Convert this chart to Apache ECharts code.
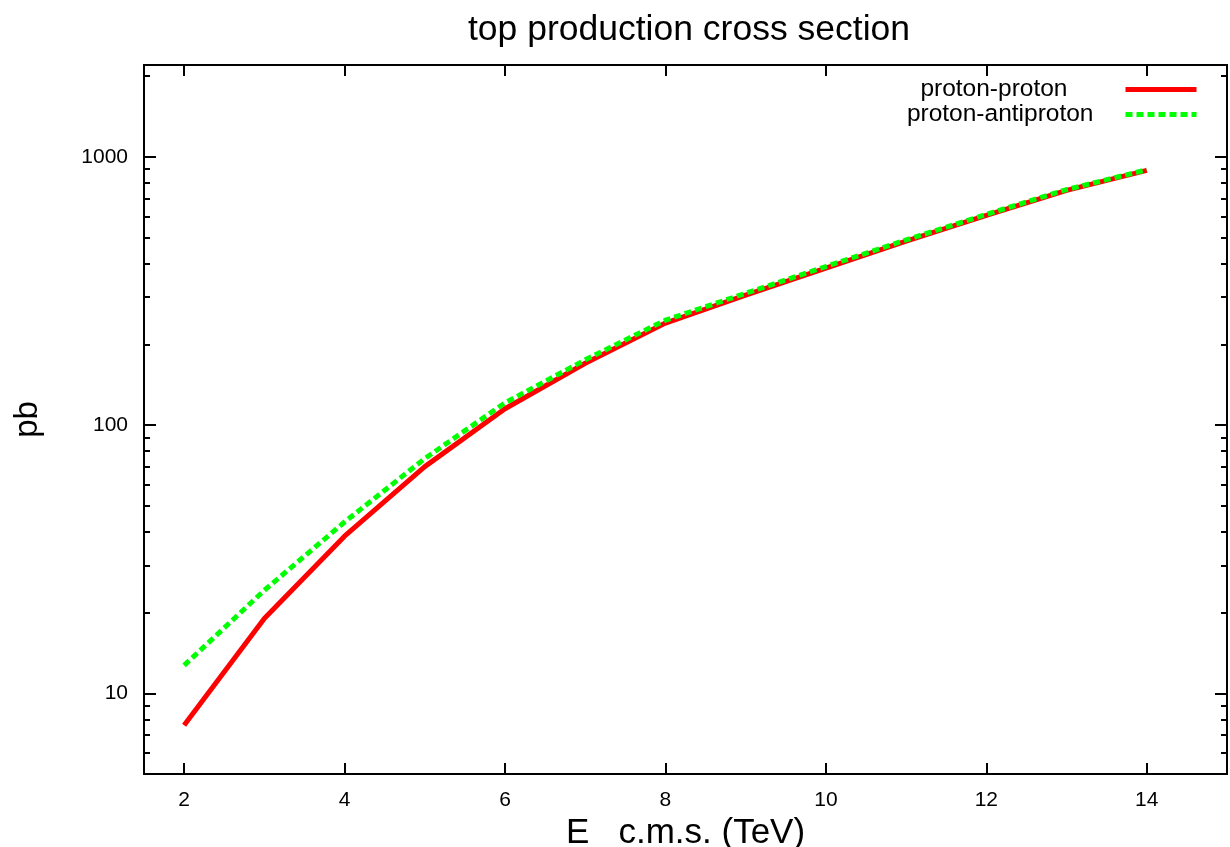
<!DOCTYPE html>
<html>
<head>
<meta charset="utf-8">
<title>top production cross section</title>
<script src="https://cdn.jsdelivr.net/npm/echarts@6/dist/echarts.min.js"></script>
<style>
    html, body {margin: 0; padding: 0; background: #fff;}
    #chart {width: 1230px; height: 847px;}
</style>
</head>
<body>
<div id="chart"></div>
<script>
// c.m.s. energy in TeV
var energy = [2, 3, 4, 5, 6, 7, 8, 9, 10, 11, 12, 13, 14];
// cross sections in pb
var protonProton = [7.6, 19, 38.5, 70, 115, 170, 240, 305, 385, 485, 605, 750, 890];
var protonAntiproton = [12.7, 24.2, 43.5, 75, 121, 175, 246, 310, 390, 490, 610, 755, 895];

var xTicks = [2, 4, 6, 8, 10, 12, 14];
var yMajorTicks = [10, 100, 1000];
var yMinorTicks = [6, 7, 8, 9, 20, 30, 40, 50, 60, 70, 80, 90, 200, 300, 400, 500, 600, 700, 800, 900, 2000];

var fontFamily = '"Liberation Sans", Arial, Helvetica, sans-serif';

function toPoints(xs, ys) {
    var pts = [];
    for (let i = 0; i < xs.length; i++) {
        pts.push([xs[i], ys[i]]);
    }
    return pts;
}

function yAxisOf(position, ticks, tickLength, showLabels) {
    return {
        type: 'log',
        logBase: 10,
        position: position,
        min: 5,
        max: 2200,
        name: showLabels ? 'pb' : '',
        nameLocation: 'middle',
        nameGap: 100,
        nameTextStyle: {color: '#000', fontSize: 33, fontFamily: fontFamily},
        axisLine: {show: true, lineStyle: {color: '#000', width: 2}},
        axisTick: {show: true, inside: true, length: tickLength, customValues: ticks,
            lineStyle: {color: '#000', width: 2}},
        axisLabel: {show: showLabels, customValues: yMajorTicks, margin: 16,
            color: '#000', fontSize: 21, fontFamily: fontFamily,
            formatter: function (v) { return String(v); }},
        splitLine: {show: false},
        minorTick: {show: false}
    };
}

var chart = echarts.init(document.getElementById('chart'));

var option = {
    backgroundColor: '#fff',
    animation: false,
    title: {
        text: 'top production cross section',
        left: 463,
        top: 7,
        textStyle: {color: '#000', fontSize: 35.5, fontWeight: 'normal', fontFamily: fontFamily}
    },
    legend: {
        orient: 'vertical',
        align: 'right',
        right: 31,
        top: 77,
        padding: 0,
        itemGap: 0,
        itemWidth: 71,
        itemHeight: 14,
        data: ['proton-proton', 'proton-antiproton'],
        itemStyle: {opacity: 0},
        lineStyle: {width: 5},
        formatter: function (name) {
            return name === 'proton-proton' ? '{a|' + name + '}' : '{b|' + name + '}';
        },
        textStyle: {
            color: '#000', fontSize: 24.5, lineHeight: 22, fontFamily: fontFamily,
            rich: {
                a: {fontSize: 24.5, lineHeight: 22, fontFamily: fontFamily, padding: [0, 53, 0, 0]},
                b: {fontSize: 24.5, lineHeight: 22, fontFamily: fontFamily, padding: [0, 27, 0, 0]}
            }
        }
    },
    grid: {left: 144, right: 3, top: 65, bottom: 73, containLabel: false, outerBoundsMode: 'none'},
    xAxis: [
        {
            type: 'value',
            position: 'bottom',
            min: 1.5,
            max: 15,
            name: 'E   c.m.s. (TeV)',
            nameLocation: 'middle',
            nameGap: 41,
            nameTextStyle: {color: '#000', fontSize: 35, fontFamily: fontFamily},
            axisLine: {show: true, onZero: false, lineStyle: {color: '#000', width: 2}},
            axisTick: {show: true, inside: true, length: 11, customValues: xTicks,
                lineStyle: {color: '#000', width: 2}},
            axisLabel: {show: true, customValues: xTicks, margin: 16,
                color: '#000', fontSize: 21, fontFamily: fontFamily},
            splitLine: {show: false}
        },
        {
            type: 'value',
            position: 'top',
            min: 1.5,
            max: 15,
            axisLine: {show: true, onZero: false, lineStyle: {color: '#000', width: 2}},
            axisTick: {show: true, inside: true, length: 11, customValues: xTicks,
                lineStyle: {color: '#000', width: 2}},
            axisLabel: {show: false},
            splitLine: {show: false}
        }
    ],
    yAxis: [
        yAxisOf('left', yMajorTicks, 12, true),
        yAxisOf('left', yMinorTicks, 6, false),
        yAxisOf('right', yMajorTicks, 12, false),
        yAxisOf('right', yMinorTicks, 6, false)
    ],
    series: [
        {
            name: 'proton-proton',
            type: 'line',
            xAxisIndex: 0,
            yAxisIndex: 0,
            symbol: 'none',
            showSymbol: false,
            data: toPoints(energy, protonProton),
            itemStyle: {color: '#ff0000'},
            lineStyle: {color: '#ff0000', width: 5}
        },
        {
            name: 'proton-antiproton',
            type: 'line',
            xAxisIndex: 0,
            yAxisIndex: 0,
            symbol: 'none',
            showSymbol: false,
            data: toPoints(energy, protonAntiproton),
            itemStyle: {color: '#00ff00'},
            lineStyle: {color: '#00ff00', width: 5, type: [7, 4]}
        }
    ]
};

chart.setOption(option);
</script>
</body>
</html>
